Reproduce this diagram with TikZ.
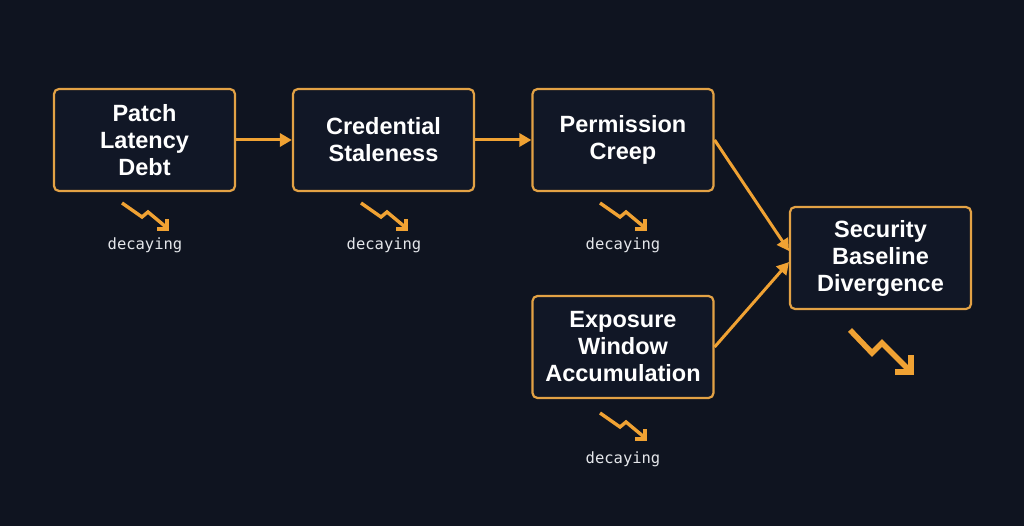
\documentclass[tikz,border=0pt]{standalone}
\usepackage{fontspec}
\setmainfont{Liberation Sans}
\newfontfamily\monof{DejaVu Sans Mono}
\usetikzlibrary{arrows.meta}
\definecolor{bg}{HTML}{0F1420}
\definecolor{boxfill}{HTML}{111726}
\definecolor{edge}{HTML}{E3A245}
\definecolor{arr}{HTML}{F0A233}
\definecolor{lbl}{HTML}{E4E6EA}
\tikzset{
  stage/.style={draw=edge, line width=2.2pt, rounded corners=5pt, fill=boxfill,
    minimum width=181pt, minimum height=102pt, align=center, text=white,
    font=\fontsize{23.5}{27}\selectfont\bfseries, inner sep=0pt},
  flow/.style={draw=arr, line width=3pt, -{Triangle[length=12pt,width=13pt]}},
  decayline/.style={draw=arr, line width=3.4pt, line join=miter, line cap=butt},
  decaytext/.style={text=lbl, font=\monof\fontsize{15.5}{18}\selectfont, inner sep=0pt},
}
\begin{document}
\begin{tikzpicture}[x=1pt,y=-1pt]
\fill[bg] (0,0) rectangle (1024,526);
\useasboundingbox (0,0) rectangle (1024,526);

\node[stage] (patch) at (144.5,140) {Patch\\Latency\\Debt};
\node[stage] (cred) at (383.5,140) {Credential\\Staleness};
\node[stage] (perm) at (623,140) {Permission\\Creep};
\node[stage] (expo) at (623,347) {Exposure\\Window\\Accumulation};
\node[stage] (sec) at (880.5,258) {Security\\Baseline\\Divergence};

\coordinate (pin) at (789,251);
\coordinate (ein) at (789,262);
\draw[flow] (patch.east) -- (cred.west);
\draw[flow] (cred.east) -- (perm.west);
\draw[flow] (perm.east) -- (pin);
\draw[flow] (expo.east) -- (ein);

% small decay icons
\foreach \n/\cx/\cy in {a/145/216, b/384/216, c/623/216, d/623/426}{
  \begin{scope}[shift={(\cx,\cy)}]
    \draw[decayline] (-23,-13) -- (-3,1) -- (3,-4) -- (21,11);
    \draw[decayline] (22,3) -- (22,13) -- (12,13);
  \end{scope}
}
\node[decaytext] (ta) at (145,245) {decaying};
\node[decaytext] (tb) at (384,245) {decaying};
\node[decaytext] (tc) at (623,245) {decaying};
\node[decaytext] (td) at (623,459) {decaying};

% large decay icon
\begin{scope}[shift={(880,351)}]
  \draw[decayline, line width=5.5pt] (-30,-21) -- (-8,2) -- (2,-8) -- (28,18);
  \draw[decayline, line width=5.5pt] (31,4) -- (31,21) -- (15,21);
\end{scope}
\end{tikzpicture}
\end{document}
